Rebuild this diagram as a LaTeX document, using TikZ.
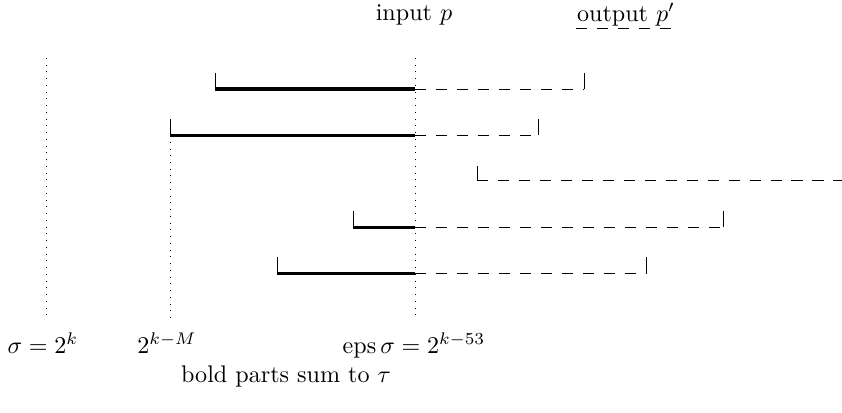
\documentclass[tikz,border=0pt]{standalone}
\begin{document}
\begin{tikzpicture}[x=0.415pt,y=-0.415pt,
  bold/.style={line width=1.25pt},
  dashline/.style={line width=0.4pt,dash pattern=on 4.6pt off 4.1pt},
  dotline/.style={line width=0.4pt,dash pattern=on 0.4pt off 2.4pt},
  tick/.style={line width=0.4pt},
  lbl/.style={anchor=base,inner sep=0pt}]
\useasboundingbox (0,0) rectangle (842,412);
% reference vertical lines
\coordinate (s1) at (46,58);   \coordinate (s2) at (46,319);
\coordinate (m1) at (170,135); \coordinate (m2) at (170,319);
\coordinate (e1) at (415,58);  \coordinate (e2) at (415,319);
\draw[dotline] (s1) -- (s2);
\draw[dotline] (m1) -- (m2);
\draw[dotline] (e1) -- (e2);
% row 1
\coordinate (a1) at (215,89); \coordinate (p1) at (415,89); \coordinate (b1) at (584,89);
\draw[tick] (a1) -- ++(0,-16);
\draw[bold] (a1) -- (p1);
\draw[dashline] (p1) -- (b1);
\draw[tick] (b1) -- ++(0,-16);
% row 2
\coordinate (a2) at (170,135); \coordinate (p2) at (415,135); \coordinate (b2) at (538,135);
\draw[tick] (a2) -- ++(0,-16);
\draw[bold] (a2) -- (p2);
\draw[dashline] (p2) -- (b2);
\draw[tick] (b2) -- ++(0,-16);
% row 3
\coordinate (a3) at (477,180); \coordinate (b3) at (842,180);
\draw[tick] (a3) -- ++(0,-14);
\draw[dashline] (a3) -- (b3);
% row 4
\coordinate (a4) at (353,227); \coordinate (p4) at (415,227); \coordinate (b4) at (723,227);
\draw[tick] (a4) -- ++(0,-16);
\draw[bold] (a4) -- (p4);
\draw[dashline] (p4) -- (b4);
\draw[tick] (b4) -- ++(0,-16);
% row 5
\coordinate (a5) at (277,273); \coordinate (p5) at (415,273); \coordinate (b5) at (646,273);
\draw[tick] (a5) -- ++(0,-16);
\draw[bold] (a5) -- (p5);
\draw[dashline] (p5) -- (b5);
\draw[tick] (b5) -- ++(0,-16);
% labels
\node[lbl] (inp) at (414,20.5) {input $p$};
\node[lbl] (outp) at (626,21.5) {output $p'$};
\coordinate (u1) at (576,28.5); \coordinate (u2) at (676,28.5);
\draw[dashline] (u1) -- (u2);
\node[lbl] (sig) at (43,353) {$\sigma = 2^k$};
\node[lbl] (mm) at (167,353) {$2^{k-M}$};
\node[lbl] (eps) at (414,353) {$\mathrm{eps}\,\sigma = 2^{k-53}$};
\node[lbl] (sum) at (286,382) {bold parts sum to $\tau$};
\end{tikzpicture}
\end{document}
